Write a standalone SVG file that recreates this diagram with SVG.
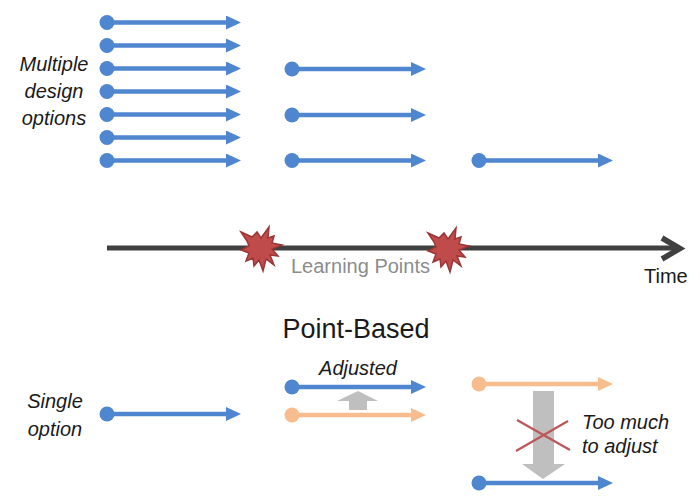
<svg xmlns="http://www.w3.org/2000/svg" width="700" height="503" viewBox="0 0 700 503">
<style>
text{font-family:"Liberation Sans",Arial,sans-serif;fill:#1a1a1a}
.i{font-style:italic;font-size:20px}
.b{stroke:#4f86d0;stroke-width:4.500;fill:none}
.o{stroke:#f8bd8e;stroke-width:4.500;fill:none}
.bd{fill:#4f86d0}
.od{fill:#f8bd8e}
.star{fill:#c04b4b;stroke:#9c3535;stroke-width:1.5}
</style>
<defs>
<marker id="ab" markerUnits="userSpaceOnUse" markerWidth="15" markerHeight="14" refX="1" refY="7" orient="auto"><path d="M0 0L15 7L0 14Z" fill="#4f86d0"/></marker>
<marker id="ao" markerUnits="userSpaceOnUse" markerWidth="15" markerHeight="14" refX="1" refY="7" orient="auto"><path d="M0 0L15 7L0 14Z" fill="#f8bd8e"/></marker>
<g id="blue"><line class="b" x1="107" y1="0" x2="227" y2="0" marker-end="url(#ab)"/><circle class="bd" cx="107" cy="0" r="7.500"/></g>
<polygon id="burst" class="star" points="-19,-16 -8,-11 -3,-16 1,-10 9,-21 8,-10 14,-12 12,-5 22,-3 12,1 18,8 10,7 14,17 6,11 3,23 -1,12 -6,18 -7,10 -14,13 -11,5 -19,2 -11,-2 -13,-7"/>
</defs>
<g id="connectors">
<use href="#blue" y="22.500"/><use href="#blue" y="45.500"/><use href="#blue" y="68.500"/><use href="#blue" y="91.500"/><use href="#blue" y="114.500"/><use href="#blue" y="137.500"/><use href="#blue" y="160.500"/>
<use href="#blue" x="185" y="69"/><use href="#blue" x="185" y="115"/><use href="#blue" x="185" y="160.500"/>
<use href="#blue" x="372" y="160.500"/>
<line x1="107" y1="248" x2="678" y2="248" stroke="#404040" stroke-width="5"/>
<path d="M662 238L680 248.500L662 259" stroke="#404040" stroke-width="5.500" fill="none"/>
<use href="#blue" y="414"/>
<use href="#blue" x="185" y="387"/>
<line class="o" x1="292" y1="415" x2="412" y2="415" marker-end="url(#ao)"/>
<line class="o" x1="479" y1="384" x2="599" y2="384" marker-end="url(#ao)"/>
<use href="#blue" x="372" y="483"/>
</g>
<g id="learning-point-1"><use href="#burst" x="260" y="248"/></g>
<g id="learning-point-2"><use href="#burst" x="447" y="249"/></g>
<g id="adjust-up"><polygon fill="#bfbfbf" points="358,391 378,401 367,401 367,410 349,410 349,401 337,401"/></g>
<g id="adjust-down"><polygon fill="#bfbfbf" points="533,391 554,391 554,464 565,464 543,479 522,464 533,464"/></g>
<g id="cross"><path d="M517 420L570 450M516 451L568 421" stroke="#bd5757" stroke-width="2.200" fill="none"/></g>
<g id="circles-orange"><circle class="od" cx="292" cy="415" r="7.500"/><circle class="od" cx="479" cy="384" r="7.500"/></g>
<g id="labels">
<text class="i" x="54" y="71" text-anchor="middle">Multiple</text>
<text class="i" x="54" y="98" text-anchor="middle">design</text>
<text class="i" x="54" y="125" text-anchor="middle">options</text>
<text x="360.500" y="273" text-anchor="middle" font-size="20" style="fill:#8c8c8c">Learning Points</text>
<text x="644" y="283" font-size="20">Time</text>
<text x="356" y="338" text-anchor="middle" font-size="27">Point-Based</text>
<text class="i" x="55" y="408" text-anchor="middle">Single</text>
<text class="i" x="55" y="436" text-anchor="middle">option</text>
<text class="i" x="358" y="375" text-anchor="middle">Adjusted</text>
<text class="i" x="582" y="429">Too much</text>
<text class="i" x="582" y="453">to adjust</text>
</g>
</svg>
